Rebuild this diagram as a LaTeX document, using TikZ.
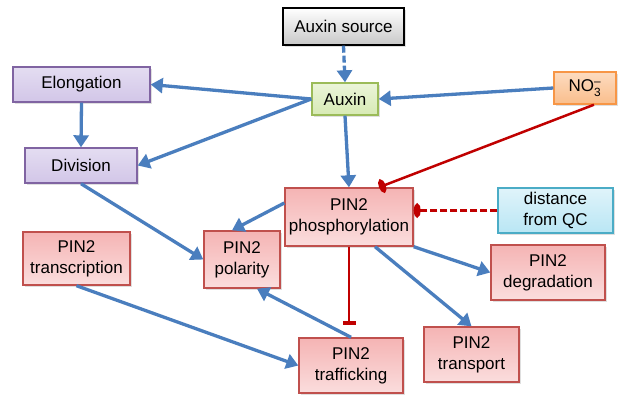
\documentclass[tikz,border=0pt]{standalone}
\usepackage{amsmath}
\usepackage{fontspec}
\setmainfont{Liberation Sans}
\usepackage{tikz}
\usetikzlibrary{arrows.meta, positioning, shadows}
\definecolor{actblue}{RGB}{74,126,190}
\definecolor{inhred}{RGB}{192,0,0}
\definecolor{pinfill}{RGB}{245,180,180}
\definecolor{pinedge}{RGB}{192,80,77}
\definecolor{growfill}{RGB}{210,198,232}
\definecolor{growedge}{RGB}{128,100,162}
\definecolor{auxfill}{RGB}{215,234,180}
\definecolor{auxedge}{RGB}{155,187,89}
\definecolor{nofill}{RGB}{250,190,140}
\definecolor{noedge}{RGB}{247,150,70}
\definecolor{qcfill}{RGB}{185,230,244}
\definecolor{qcedge}{RGB}{75,172,198}
\definecolor{srcfill}{RGB}{200,200,200}

\begin{document}
\begin{tikzpicture}[x=1pt, y=-1pt,
    box/.style={draw, line width=1.4pt, align=center, inner sep=0pt,
        font=\fontsize{17}{21}\selectfont,
        drop shadow={opacity=0.25, shadow xshift=1.5pt, shadow yshift=-1.5pt}},
    pinbox/.style={box, draw=pinedge, top color=pinfill, bottom color=pinfill!45},
    growbox/.style={box, draw=growedge, top color=growfill!60, bottom color=growfill},
    act/.style={actblue, line width=3.3pt, -{Triangle[length=12pt, width=15pt]}},
    inh/.style={inhred, line width=2.5pt, -{Bar[width=13pt, line width=4pt]}},
    blob/.style={inhred, line width=2.5pt, -{Ellipse[length=7pt, width=14pt]}}]

    % fond et cadre
    \fill[white] (0,0) rectangle (624,397);

    % Sources d'auxine
    \node[box, draw=black, top color=white, bottom color=srcfill, minimum width=121pt, minimum height=37pt] (src) at (343.5,26.5) {Auxin source};
    \node[box, draw=auxedge, top color=auxfill!50, bottom color=auxfill, minimum width=66pt, minimum height=32pt] (aux) at (345,99) {Auxin};
    \node[box, draw=noedge, top color=nofill!55, bottom color=nofill, minimum width=62pt, minimum height=32pt] (no3) at (585,88) {NO$_{\text{3}}^{\text{--}}$};
    \node[box, draw=qcedge, top color=qcfill!45, bottom color=qcfill, minimum width=115pt, minimum height=45pt] (dist) at (555.5,210.5) {distance\\from QC};

    % Croissance
    \node[growbox, minimum width=137pt, minimum height=35pt] (elong) at (81.5,84.5) {Elongation};
    \node[growbox, minimum width=112pt, minimum height=35pt] (div) at (81,165.5) {Division};

    % PIN2
    \node[pinbox, minimum width=128pt, minimum height=58pt] (phos) at (349,217) {PIN2\\phosphorylation};
    \node[pinbox, minimum width=76pt, minimum height=57pt] (pol) at (242,259.5) {PIN2\\polarity};
    \node[pinbox, minimum width=107pt, minimum height=53pt] (trc) at (76.5,258.5) {PIN2\\transcription};
    \node[pinbox, minimum width=104pt, minimum height=55pt] (traf) at (351,365.5) {PIN2\\trafficking};
    \node[pinbox, minimum width=114pt, minimum height=55pt] (deg) at (548,272.5) {PIN2\\degradation};
    \node[pinbox, minimum width=95pt, minimum height=55pt] (trans) at (471.5,354.5) {PIN2\\transport};

    % Activations
    \draw[act, dash pattern=on 7pt off 3pt] (src.south) -- (aux.north);
    \draw[act] (no3.west) -- (aux.east);
    \draw[act] (aux.west) -- (elong.east);
    \draw[act] (aux.west) -- (div.east);
    \draw[act] (aux.south) -- (phos.north);
    \draw[act] (elong.south) -- (div.north);
    \draw[act] (div.south) -- (pol.west);
    \draw[act] ([yshift=14pt]phos.west) -- ([xshift=-10pt]pol.north);
    \draw[act] (phos.south east) -- (deg.west);
    \draw[act] ([xshift=26pt]phos.south) -- (trans.north);
    \draw[act] (trc.south) -- (traf.west);
    \draw[act] (traf.north) -- ([xshift=15pt]pol.south);

    % Inhibitions
    \draw[blob] ([xshift=9pt]no3.south) -- ([xshift=30pt]phos.north);
    \draw[blob, dash pattern=on 7pt off 3pt] (dist.west) -- (dist.west -| phos.east);
    \draw[inh, shorten >=12pt] (phos.south) -- (phos.south |- traf.north);
\end{tikzpicture}
\end{document}
